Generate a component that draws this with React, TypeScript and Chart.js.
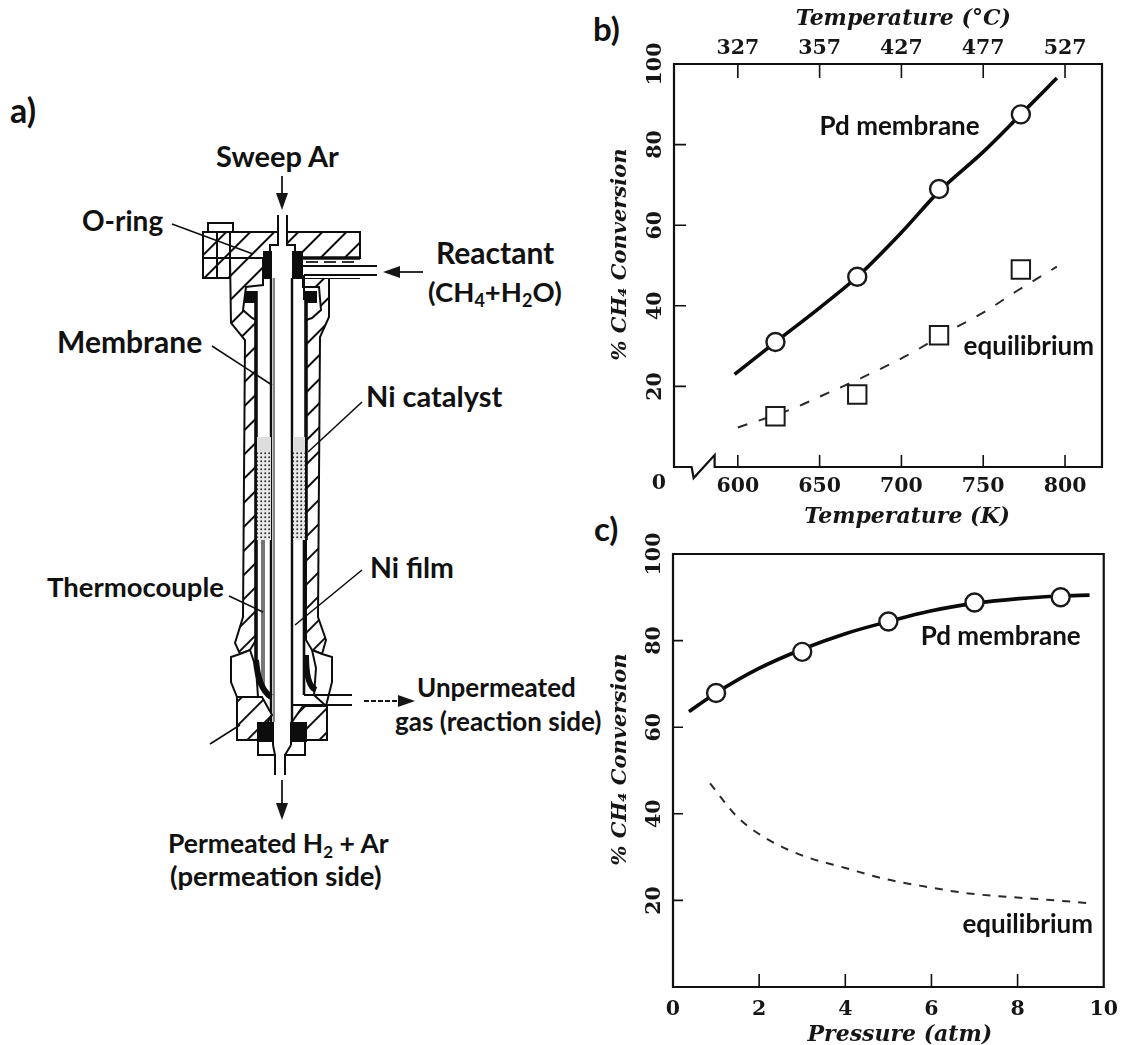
import React, { useEffect, useRef } from "react";
import { Chart, registerables } from "chart.js";

Chart.register(...registerables);

// ---------- panel b data ----------
const tempTicksK = [600, 650, 700, 750, 800];
const tempTicksC = ["327", "357", "427", "477", "527"];
const convTicksB = [20, 40, 60, 80, 100];
const markerTempK = [623, 673, 723, 773];
const markerPdB = [31, 47.2, 69, 87.5];
const markerEqB = [12.6, 18, 32.7, 49];
const curvePdTempK = [598, 623, 650, 673, 700, 723, 750, 773, 795];
const curvePdB = [23, 31, 39.5, 47.2, 58.2, 68.4, 78.2, 87.5, 96.5];
const curveEqTempK = [600, 633, 652, 675, 704, 729, 750, 771, 795];
const curveEqB = [9.8, 14.4, 17.8, 22, 27.8, 33.7, 38.3, 43.8, 49.7];

// ---------- panel c data ----------
const pressureTicks = [0, 2, 4, 6, 8, 10];
const convTicksC = [20, 40, 60, 80, 100];
const markerPressure = [1, 3, 5, 7, 9];
const markerPdC = [67.9, 77.4, 84.4, 88.8, 90];
const curvePdPressure = [0.37, 1, 1.96, 3, 4, 5, 5.95, 7, 8.03, 9, 9.67];
const curvePdC = [63.6, 67.9, 73.4, 78, 81.6, 84.4, 86.8, 88.6, 89.7, 90.3, 90.5];
const curveEqPressure = [0.86, 1.5, 2.2, 3.05, 4, 4.9, 5.85, 6.87, 7.8, 8.9, 9.6];
const curveEqC = [47, 39.2, 34.1, 30.2, 27.5, 25, 23.2, 21.6, 20.8, 20, 19.4];

const INK = "#161616";
const SERIF = "'DejaVu Serif', serif";
const SANS = "Lato, sans-serif";
const xy = (xs: number[], ys: number[]) => xs.map((x, i) => ({ x, y: ys[i] }));

const tickFont = { family: SERIF, size: 20.5, weight: "bold" as const };
const titleFont = { family: SERIF, size: 22, weight: "bold" as const, style: "italic" as const };

function fixSize(prop: "width" | "height", value: number) {
  return (scale: any) => {
    scale[prop] = value;
  };
}

const solidLine = (label: string, data: any[]) => ({
  label,
  data,
  borderColor: "#0a0a0a",
  borderWidth: 3.6,
  pointRadius: 0,
  cubicInterpolationMode: "monotone",
  fill: false,
});
const dashedLine = (label: string, data: any[], dash: number[]) => ({
  label,
  data,
  borderColor: "#2a2a2a",
  borderWidth: 2,
  borderDash: dash,
  pointRadius: 0,
  cubicInterpolationMode: "monotone",
  fill: false,
});
const markers = (label: string, data: any[], style: string, radius: number, width: number) => ({
  label,
  data,
  showLine: false,
  pointStyle: style,
  pointRadius: radius,
  pointBackgroundColor: "#ffffff",
  pointBorderColor: "#1a1a1a",
  pointBorderWidth: width,
});

const framePlugin = {
  id: "frame",
  afterDatasetsDraw(chart: any, _a: any, o: any) {
    const { ctx, chartArea: a, scales } = chart;
    ctx.save();
    ctx.strokeStyle = "#111";
    ctx.lineWidth = 2.2;
    ctx.lineCap = "square";
    ctx.beginPath();
    ctx.moveTo(a.left, a.bottom);
    ctx.lineTo(a.left, a.top);
    ctx.lineTo(a.right, a.top);
    ctx.lineTo(a.right, a.bottom);
    if (o.breakAt != null) {
      const bx = scales.x.getPixelForValue(o.breakAt);
      ctx.lineTo(bx + 21, a.bottom);
      ctx.lineTo(bx + 21, a.bottom - 12);
      ctx.lineTo(bx, a.bottom + 11);
      ctx.lineTo(bx - 2, a.bottom);
    }
    ctx.lineTo(a.left, a.bottom);
    ctx.stroke();

    ctx.lineWidth = 1.6;
    ctx.lineCap = "butt";
    ctx.beginPath();
    for (const v of o.bottomTicks || []) {
      const p = scales.x.getPixelForValue(v);
      ctx.moveTo(p, a.bottom);
      ctx.lineTo(p, a.bottom - o.tickLen);
    }
    for (const v of o.topTicks || []) {
      const p = scales.x.getPixelForValue(v);
      ctx.moveTo(p, a.top);
      ctx.lineTo(p, a.top + 14);
    }
    for (const v of o.leftTicks || []) {
      const p = scales.y.getPixelForValue(v);
      ctx.moveTo(a.left, p);
      ctx.lineTo(a.left + o.yTickLen, p);
    }
    ctx.stroke();

    ctx.fillStyle = "#111";
    ctx.textAlign = "left";
    ctx.textBaseline = "middle";
    ctx.font = `bold 26px ${SANS}`;
    for (const n of o.notes || []) {
      ctx.fillText(n.text, scales.x.getPixelForValue(n.x), scales.y.getPixelForValue(n.y));
    }
    if (o.zero) {
      ctx.fillStyle = INK;
      ctx.textAlign = "center";
      ctx.font = `bold 20.5px ${SERIF}`;
      ctx.fillText("0", a.left - 15, a.bottom + 17);
    }
    ctx.restore();
  },
};

function yScale(title: string, ticks: number[], width: number) {
  return {
    type: "linear",
    position: "left",
    min: 0,
    max: 100,
    afterFit: fixSize("width", width),
    afterBuildTicks: (s: any) => {
      s.ticks = ticks.map((value) => ({ value }));
    },
    grid: { display: false, drawTicks: false },
    border: { display: false },
    ticks: {
      color: INK,
      font: tickFont,
      minRotation: 90,
      maxRotation: 90,
      crossAlign: "center",
      padding: -3,
      autoSkip: false,
      callback: (v: any) => String(v),
    },
    title: { display: true, text: title, color: INK, font: { ...titleFont, size: 21 }, padding: { top: 8, bottom: 0 } },
  };
}

function makeChartB(canvas: HTMLCanvasElement) {
  return new Chart(canvas, {
    type: "line",
    data: {
      datasets: [
        markers("Pd membrane", xy(markerTempK, markerPdB), "circle", 9, 2.4),
        markers("equilibrium", xy(markerTempK, markerEqB), "rect", 13, 2),
        solidLine("Pd membrane curve", xy(curvePdTempK, curvePdB)),
        dashedLine("equilibrium curve", xy(curveEqTempK, curveEqB), [10, 12]),
      ] as any,
    },
    plugins: [framePlugin as any],
    options: {
      animation: false,
      responsive: false,
      layout: { padding: { right: 26, top: 0, left: 0, bottom: 0 } },
      parsing: false as any,
      plugins: {
        legend: { display: false },
        tooltip: { enabled: false },
        frame: {
          breakAt: 573,
          tickLen: 12,
          yTickLen: 12,
          bottomTicks: tempTicksK,
          topTicks: tempTicksK,
          leftTicks: [20, 40, 60, 80],
          zero: true,
          notes: [
            { text: "Pd membrane", x: 650, y: 84.5 },
            { text: "equilibrium", x: 738, y: 29.8 },
          ],
        },
      } as any,
      scales: {
        x: {
          type: "linear",
          position: "bottom",
          min: 561,
          max: 822.6,
          afterFit: fixSize("height", 63),
          afterBuildTicks: (s: any) => {
            s.ticks = tempTicksK.map((value) => ({ value }));
          },
          grid: { display: false, drawTicks: false },
          border: { display: false },
          ticks: { color: INK, font: tickFont, padding: 7, autoSkip: false, maxRotation: 0, callback: (v: any) => String(v) },
          title: { display: true, text: "     Temperature (K)", color: INK, font: titleFont, padding: { top: 0, bottom: 0 } },
        },
        xTop: {
          axis: "x",
          type: "linear",
          position: "top",
          min: 561,
          max: 822.6,
          afterFit: fixSize("height", 64),
          afterBuildTicks: (s: any) => {
            s.ticks = tempTicksK.map((value) => ({ value }));
          },
          grid: { display: false, drawTicks: false },
          border: { display: false },
          ticks: {
            color: INK,
            font: tickFont,
            padding: 3,
            autoSkip: false,
            maxRotation: 0,
            callback: (v: any) => tempTicksC[tempTicksK.indexOf(Number(v))],
          },
          title: { display: true, text: "    Temperature (°C)", color: INK, font: { ...titleFont, size: 22 }, padding: { top: 6, bottom: 0 } },
        },
        y: yScale("   % CH₄ Conversion", convTicksB, 74),
      } as any,
    },
  });
}

function makeChartC(canvas: HTMLCanvasElement) {
  return new Chart(canvas, {
    type: "line",
    data: {
      datasets: [
        markers("Pd membrane", xy(markerPressure, markerPdC), "circle", 9, 2.4),
        solidLine("Pd membrane curve", xy(curvePdPressure, curvePdC)),
        dashedLine("equilibrium curve", xy(curveEqPressure, curveEqC), [8, 8]),
      ] as any,
    },
    plugins: [framePlugin as any],
    options: {
      animation: false,
      responsive: false,
      layout: { padding: { right: 20, top: 24, left: 0, bottom: 0 } },
      parsing: false as any,
      plugins: {
        legend: { display: false },
        tooltip: { enabled: false },
        frame: {
          tickLen: 13,
          yTickLen: 10,
          bottomTicks: [2, 4, 6, 8],
          leftTicks: [20, 40, 60, 80],
          notes: [
            { text: "Pd membrane", x: 5.75, y: 81 },
            { text: "equilibrium", x: 6.72, y: 14.3 },
          ],
        },
      } as any,
      scales: {
        x: {
          type: "linear",
          position: "bottom",
          min: 0,
          max: 10,
          afterFit: fixSize("height", 63),
          afterBuildTicks: (s: any) => {
            s.ticks = pressureTicks.map((value) => ({ value }));
          },
          grid: { display: false, drawTicks: false },
          border: { display: false },
          ticks: { color: INK, font: tickFont, padding: 10, autoSkip: false, maxRotation: 0, callback: (v: any) => String(v) },
          title: { display: true, text: "   Pressure (atm)", color: INK, font: titleFont, padding: { top: 0, bottom: 2 } },
        },
        y: yScale("   % CH₄ Conversion", convTicksC, 73),
      } as any,
    },
  });
}

function Arrow({ x1, y1, x2, y2, dash }: { x1: number; y1: number; x2: number; y2: number; dash?: string }) {
  const len = Math.hypot(x2 - x1, y2 - y1);
  const ux = (x2 - x1) / len;
  const uy = (y2 - y1) / len;
  const hx = x2 - ux * 17;
  const hy = y2 - uy * 17;
  return (
    <g>
      <line x1={x1} y1={y1} x2={hx} y2={hy} stroke={INK} strokeWidth={1.8} strokeDasharray={dash} />
      <polygon points={`${x2},${y2} ${hx - uy * 6},${hy + ux * 6} ${hx + uy * 6},${hy - ux * 6}`} fill={INK} />
    </g>
  );
}

const leaders = [
  [172, 224, 253, 254],
  [212, 346, 272, 385],
  [362, 402, 308, 452],
  [229, 596, 263, 612],
  [362, 570, 295, 625],
  [210, 744, 240, 725],
];

function Diagram() {
  const stroke = { stroke: "#111", strokeWidth: 2, fill: "none" };
  const hatched = { stroke: "#111", strokeWidth: 2, fill: "url(#hatch)" };
  const label = { fontFamily: SANS, fontWeight: 700, fontSize: 28, fill: "#111" };
  return (
    <svg width={1128} height={1045} style={{ position: "absolute", left: 0, top: 0 }}>
      <defs>
        <pattern id="hatch" width={17} height={17} patternUnits="userSpaceOnUse" patternTransform="rotate(45)">
          <rect width={17} height={17} fill="#fff" />
          <line x1={0} y1={0} x2={0} y2={17} stroke="#111" strokeWidth={4} />
        </pattern>
        <pattern id="dots" width={4} height={4} patternUnits="userSpaceOnUse">
          <rect width={4} height={4} fill="#e8e8e8" />
          <circle cx={1.2} cy={1.2} r={1} fill="#333" />
        </pattern>
        <filter id="soft" x="-5%" y="-5%" width="110%" height="110%">
          <feGaussianBlur stdDeviation={0.5} />
        </filter>
      </defs>

      <g filter="url(#soft)">
        {/* flange */}
        <polygon points="287,245 287,232 360,232 360,258 295,258 295,245" {...hatched} />
        <polygon points="230,232 278,232 278,245 270,245 270,258 230,258" {...hatched} />
        <rect x={208} y={223} width={25} height={9} {...stroke} />
        <rect x={203} y={232} width={27} height={46} {...hatched} />
        <line x1={203} y1={258} x2={230} y2={258} {...stroke} />
        <line x1={217} y1={232} x2={217} y2={278} {...stroke} />
        <line x1={278} y1={215} x2={278} y2={245} {...stroke} />
        <line x1={287} y1={215} x2={287} y2={245} {...stroke} />

        {/* reactor walls */}
        <polygon points="230,258 263,258 263,285 246,287 243,310 252,318 256,320 256,640 250,650 240,654 235,643 243,617 245,340 231,323" {...hatched} />
        <polygon points="360,278 303,278 303,287 319,287 321,310 312,318 306,320 306,640 312,650 322,654 326,640 318,617 320,337 329,317 329,278" {...hatched} />
        <rect x={295} y={258} width={65} height={20} fill="#fff" />
        <line x1={295} y1={258} x2={360} y2={258} stroke="#111" strokeWidth={3.5} />
        <line x1={300} y1={266} x2={377} y2={266} stroke="#111" strokeWidth={2} />
        <line x1={304} y1={275} x2={377} y2={275} stroke="#111" strokeWidth={2} />
        <line x1={306} y1={262} x2={356} y2={262} stroke="#333" strokeWidth={2} strokeDasharray="12 6" />
        <line x1={304} y1={275} x2={304} y2={300} stroke="#111" strokeWidth={2} />
        <rect x={263} y={251} width={9} height={28} fill="#0a0a0a" />
        <rect x={292} y={251} width={11} height={28} fill="#0a0a0a" />
        <rect x={245} y={291} width={11} height={12} fill="#0a0a0a" />
        <rect x={306} y={291} width={11} height={12} fill="#0a0a0a" />

        {/* lines running down the reactor */}
        <line x1={256} y1={291} x2={256} y2={668} stroke="#0a0a0a" strokeWidth={3.6} />
        <line x1={306} y1={291} x2={306} y2={540} stroke="#0a0a0a" strokeWidth={3.6} />
        <line x1={271} y1={278} x2={271} y2={722} stroke="#0a0a0a" strokeWidth={2.4} />
        <line x1={292} y1={278} x2={292} y2={722} stroke="#0a0a0a" strokeWidth={2.4} />
        <line x1={274} y1={278} x2={274} y2={722} stroke="#333" strokeWidth={1.2} />
        <line x1={263} y1={540} x2={263} y2={685} stroke="#777" strokeWidth={4} />
        <line x1={304} y1={540} x2={304} y2={695} stroke="#0a0a0a" strokeWidth={2.6} />

        {/* catalyst */}
        <rect x={257} y={437} width={14} height={15} fill="#ddd" />
        <rect x={293} y={437} width={12} height={15} fill="#ddd" />
        <rect x={257} y={452} width={14} height={88} fill="url(#dots)" />
        <rect x={293} y={452} width={12} height={88} fill="url(#dots)" />

        {/* lower part */}
        <polygon points="240,654 231,657 231,682 237,697 258,697 256,668 250,650" fill="#fff" stroke="#111" strokeWidth={2} />
        <polygon points="322,654 332,657 332,682 326,706 314,695 316,668 312,650" fill="#fff" stroke="#111" strokeWidth={2} />
        <path d="M256,660 Q258,688 271,697" fill="none" stroke="#0a0a0a" strokeWidth={6} />
        <path d="M306,655 Q306,686 316,690" fill="none" stroke="#0a0a0a" strokeWidth={6} />
        <polygon points="237,697 262,697 272,715 257,740 237,740" {...hatched} />
        <polygon points="303,706 327,706 327,740 305,740 292,722" {...hatched} />
        <rect x={257} y={722} width={16} height={20} fill="#0a0a0a" />
        <rect x={291} y={722} width={16} height={20} fill="#0a0a0a" />
        <line x1={304} y1={695} x2={352} y2={695} stroke="#111" strokeWidth={2} />
        <line x1={292} y1={705} x2={352} y2={705} stroke="#111" strokeWidth={2} />
        <path d="M258,740 L258,755 L275,755 L275,775" {...stroke} />
        <path d="M305,740 L305,755 L285,755 L285,775" {...stroke} />
        <line x1={273} y1={722} x2={273} y2={745} {...stroke} />
        <line x1={291} y1={722} x2={291} y2={745} {...stroke} />
        <path d="M273,745 L275,755 M291,745 L285,755" {...stroke} />

        {leaders.map(([x1, y1, x2, y2], i) => (
          <line key={i} x1={x1} y1={y1} x2={x2} y2={y2} stroke="#111" strokeWidth={1.6} />
        ))}

        <Arrow x1={282} y1={176} x2={282} y2={210} />
        <Arrow x1={423} y1={272} x2={383} y2={272} />
        <Arrow x1={364} y1={701} x2={415} y2={701} dash="5 2" />
        <Arrow x1={282} y1={780} x2={282} y2={820} />
      </g>

      <text x={10} y={123} {...label} fontSize={34}>a)</text>
      <text x={216} y={167} {...label} fontSize={29}>Sweep Ar</text>
      <text x={82} y={231} {...label} fontSize={28}>O-ring</text>
      <text x={436} y={264} {...label} fontSize={30}>Reactant</text>
      <text x={428} y={302} {...label} fontSize={27.5}>
        (CH<tspan fontSize={18} dy={5}>4</tspan>
        <tspan dy={-5}>+H</tspan>
        <tspan fontSize={18} dy={5}>2</tspan>
        <tspan dy={-5}>O)</tspan>
      </text>
      <text x={57} y={353} {...label} fontSize={30}>Membrane</text>
      <text x={366} y={407} {...label} fontSize={29}>Ni catalyst</text>
      <text x={47} y={597} {...label} fontSize={27.5}>Thermocouple</text>
      <text x={370} y={578} {...label} fontSize={28.5}>Ni film</text>
      <text x={417} y={697} {...label} fontSize={26}>Unpermeated</text>
      <text x={395} y={731} {...label} fontSize={26}>gas (reaction side)</text>
      <text x={168} y={853} {...label} fontSize={26.5}>
        Permeated H<tspan fontSize={17} dy={5}>2</tspan>
        <tspan dy={-5}> + Ar</tspan>
      </text>
      <text x={170} y={886} {...label} fontSize={27.5}>(permeation side)</text>
      <text x={593} y={41} {...label} fontSize={33}>b)</text>
      <text x={594} y={541} {...label} fontSize={33}>c)</text>
    </svg>
  );
}

export default function App() {
  const bRef = useRef<HTMLCanvasElement>(null);
  const cRef = useRef<HTMLCanvasElement>(null);
  useEffect(() => {
    const b = makeChartB(bRef.current!);
    const c = makeChartC(cRef.current!);
    return () => {
      b.destroy();
      c.destroy();
    };
  }, []);
  return (
    <div style={{ position: "absolute", left: 0, top: 0, width: 1128, height: 1045, background: "#fff", overflow: "hidden" }}>
      <Diagram />
      <canvas ref={bRef} width={528} height={530} style={{ position: "absolute", left: 600, top: 0, width: 528, height: 530 }} />
      <canvas ref={cRef} width={528} height={520} style={{ position: "absolute", left: 600, top: 530, width: 528, height: 520 }} />
    </div>
  );
}
